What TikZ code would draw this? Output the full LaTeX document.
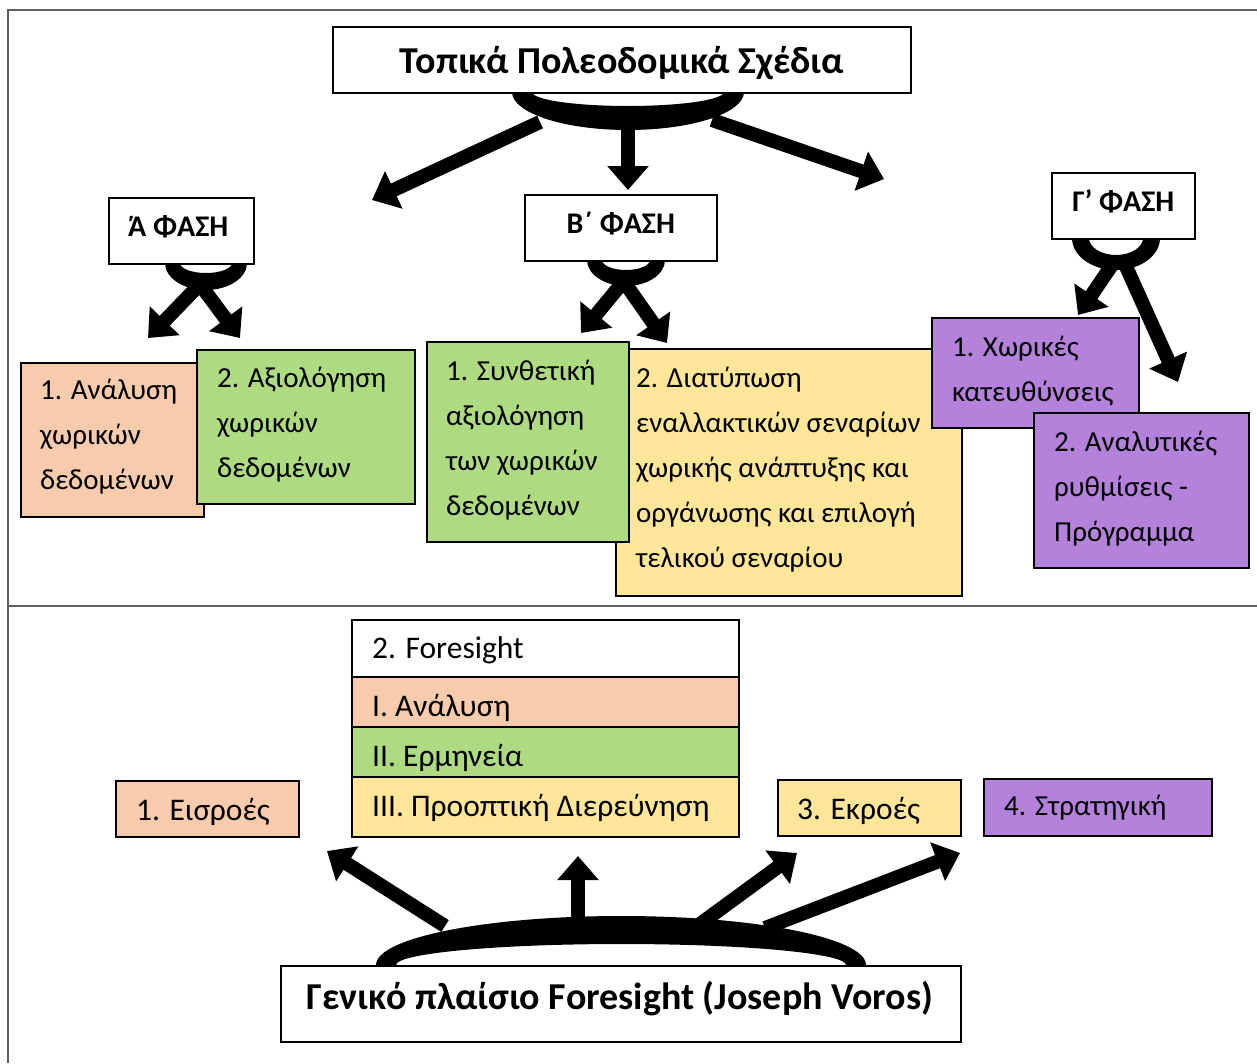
\documentclass[tikz,border=0pt]{standalone}
\usepackage{fontspec}
\setmainfont{Carlito}
\usetikzlibrary{arrows.meta}

\definecolor{salmon}{HTML}{F8CBAD}
\definecolor{leaf}{HTML}{AEDB82}
\definecolor{sand}{HTML}{FFE699}
\definecolor{lilac}{HTML}{B482DA}
\definecolor{framegray}{HTML}{5F5F5F}

\newcommand\bodyfont{\fontsize{29}{45}\selectfont}
\newcommand\lowfont{\fontsize{31.5}{45}\selectfont}
\newcommand\titlefont{\fontsize{38}{44}\selectfont\bfseries}
\newcommand\phasefont{\fontsize{30}{34}\selectfont\bfseries}
\newcommand\tstrut{\rule{0pt}{22pt}}

\tikzset{
  panel/.style={draw=black, line width=1.6pt, rectangle, inner sep=0pt, anchor=north west},
  txt/.style={anchor=north west, inner sep=0pt, align=left, font=\bodyfont},
  lowtxt/.style={txt, font=\lowfont},
  phasebox/.style={panel, fill=white},
  phasetxt/.style={inner sep=0pt, font=\phasefont},
  headtxt/.style={inner sep=0pt, font=\titlefont},
  fatarrow/.style={line width=14pt, -{Triangle[length=24pt, width=40pt]}},
  ring/.style={fill=black, even odd rule},
  frameline/.style={draw=framegray, line width=2.5pt},
}

\begin{document}
\begin{tikzpicture}[x=1pt, y=-1pt]
\useasboundingbox (0,0) rectangle (1257,1063);

% page frame and divider
\coordinate (fTL) at (8,10);
\coordinate (fTR) at (1257,10);
\coordinate (fBL) at (8,1063);
\coordinate (dL) at (8,606);
\coordinate (dR) at (1257,606);
\draw[frameline] (fTR) -- (fTL) -- (fBL);
\draw[frameline] (dL) -- (dR);

% ---------- rings and arrows (drawn under the boxes) ----------
% ring under the title
\coordinate (r0) at (628,92);
\fill[ring] (r0) ellipse[x radius=116, y radius=38] (r0) ellipse[x radius=96, y radius=14];
\coordinate (t0a) at (540,122);  \coordinate (t0aend) at (372,200);
\coordinate (t0b) at (628,125);  \coordinate (t0bend) at (628,190);
\coordinate (t0c) at (712,120);  \coordinate (t0cend) at (884,179);
\draw[fatarrow] (t0a) -- (t0aend);
\draw[fatarrow] (t0b) -- (t0bend);
\draw[fatarrow] (t0c) -- (t0cend);

% ring under phase A
\coordinate (rA) at (206,263);
\fill[ring] (rA) ellipse[x radius=41, y radius=27] (rA) ellipse[x radius=26, y radius=10];
\coordinate (tAa) at (205,279);  \coordinate (tAaend) at (148,338);
\coordinate (tAb) at (196,279);  \coordinate (tAbend) at (240,338);
\draw[fatarrow] (tAa) -- (tAaend);
\draw[fatarrow] (tAb) -- (tAbend);

% ring under phase B
\coordinate (rB) at (626,260);
\fill[ring] (rB) ellipse[x radius=39, y radius=26] (rB) ellipse[x radius=24, y radius=10];
\coordinate (tBa) at (628,276);  \coordinate (tBaend) at (581,333);
\coordinate (tBb) at (620,276);  \coordinate (tBbend) at (667,343);
\draw[fatarrow] (tBa) -- (tBaend);
\draw[fatarrow] (tBb) -- (tBbend);

% ring under phase C
\coordinate (rC) at (1116,238);
\fill[ring] (rC) ellipse[x radius=44, y radius=32] (rC) ellipse[x radius=27, y radius=17];
\coordinate (tCa) at (1114,262);  \coordinate (tCaend) at (1078,315);
\coordinate (tCb) at (1124,262);  \coordinate (tCbend) at (1178,382);
\draw[fatarrow] (tCa) -- (tCaend);
\draw[fatarrow] (tCb) -- (tCbend);

% ring above the foresight framework box
\coordinate (rF) at (621,965);
\fill[ring] (rF) ellipse[x radius=245, y radius=49] (rF) ellipse[x radius=225, y radius=21];
\coordinate (tFa) at (445,926);  \coordinate (tFaend) at (327,851);
\coordinate (tFb) at (578,922);  \coordinate (tFbend) at (578,856);
\coordinate (tFc) at (700,924);  \coordinate (tFcend) at (797,853);
\coordinate (tFd) at (765,928);  \coordinate (tFdend) at (960,853);
\draw[fatarrow] (tFa) -- (tFaend);
\draw[fatarrow] (tFb) -- (tFbend);
\draw[fatarrow] (tFc) -- (tFcend);
\draw[fatarrow] (tFd) -- (tFdend);

% ---------- upper part: local plans ----------
\node[panel, fill=white, minimum width=578pt, minimum height=66pt] (plans) at (332,26) {};
\node[headtxt] (planst) at ([yshift=-3pt]plans.center) {Τοπικά Πολεοδομικά Σχέδια};

\node[phasebox, minimum width=145pt, minimum height=66pt] (phA) at (108,197) {};
\node[phasebox, minimum width=192pt, minimum height=66pt] (phB) at (524,194) {};
\node[phasebox, minimum width=143pt, minimum height=66pt] (phC) at (1051,172) {};
\node[phasetxt] (phAt) at ([xshift=-3pt, yshift=4pt]phA.center) {Ά ΦΑΣΗ};
\node[phasetxt] (phBt) at ([yshift=4pt]phB.center) {Β΄ ΦΑΣΗ};
\node[phasetxt] (phCt) at ([yshift=4pt]phC.center) {Γ’ ΦΑΣΗ};

% phase A steps
\node[panel, fill=salmon, minimum width=183pt, minimum height=154pt] (a1) at (20,362) {};
\node[panel, fill=leaf, minimum width=218pt, minimum height=154pt] (a2) at (196,349) {};
\node[txt] (a1t) at (40,377) {\tstrut 1. Ανάλυση\\χωρικών\\δεδομένων};
\node[txt] (a2t) at (217,365) {\tstrut 2. Αξιολόγηση\\χωρικών\\δεδομένων};

% phase B steps
\node[panel, fill=sand, minimum width=346pt, minimum height=247pt] (b2) at (615,348) {};
\node[panel, fill=leaf, minimum width=202pt, minimum height=200pt] (b1) at (426,341) {};
\node[txt] (b1t) at (446,358) {\tstrut 1. Συνθετική\\αξιολόγηση\\των χωρικών\\δεδομένων};
\node[txt] (b2t) at (636,365) {\tstrut 2. Διατύπωση\\εναλλακτικών σεναρίων\\χωρικής ανάπτυξης και\\οργάνωσης και επιλογή\\τελικού σεναρίου};

% phase C steps
\node[panel, fill=lilac, minimum width=207pt, minimum height=110pt] (c1) at (931,317) {};
\node[txt] (c1t) at (952,334) {\tstrut 1. Χωρικές\\κατευθύνσεις};
\node[panel, fill=lilac, minimum width=215pt, minimum height=155pt] (c2) at (1033,412) {};
\node[txt] (c2t) at (1054,429) {\tstrut 2. Αναλυτικές\\ρυθμίσεις -\\Πρόγραμμα};

% ---------- lower part: foresight framework ----------
\node[panel, fill=white, minimum width=387pt, minimum height=57pt] (fs0) at (351,619) {};
\node[panel, fill=salmon, minimum width=387pt, minimum height=50pt] (fs1) at (351,676) {};
\node[panel, fill=leaf, minimum width=387pt, minimum height=50pt] (fs2) at (351,726) {};
\node[panel, fill=sand, minimum width=387pt, minimum height=60pt] (fs3) at (351,776) {};
\node[lowtxt] (fs0t) at (372,636) {\tstrut 2. Foresight};
\node[lowtxt] (fs1t) at (372,694) {\tstrut I. Ανάλυση};
\node[lowtxt] (fs2t) at (372,744) {\tstrut II. Ερμηνεία};
\node[lowtxt] (fs3t) at (372,794) {\tstrut III. Προοπτική Διερεύνηση};

\node[panel, fill=salmon, minimum width=183pt, minimum height=56pt] (in1) at (115,780) {};
\node[lowtxt] (in1t) at (136,798) {\tstrut 1. Εισροές};
\node[panel, fill=sand, minimum width=183pt, minimum height=56pt] (out3) at (777,779) {};
\node[lowtxt] (out3t) at (797,797) {\tstrut 3. Εκροές};
\node[panel, fill=lilac, minimum width=228pt, minimum height=57pt] (str4) at (983,778) {};
\node[txt] (str4t) at (1004,793) {\tstrut 4. Στρατηγική};

\node[panel, fill=white, minimum width=680pt, minimum height=76pt] (voros) at (280,965) {};
\node[headtxt] (vorost) at (620,999) {Γενικό πλαίσιο Foresight (Joseph Voros)};
\end{tikzpicture}
\end{document}
